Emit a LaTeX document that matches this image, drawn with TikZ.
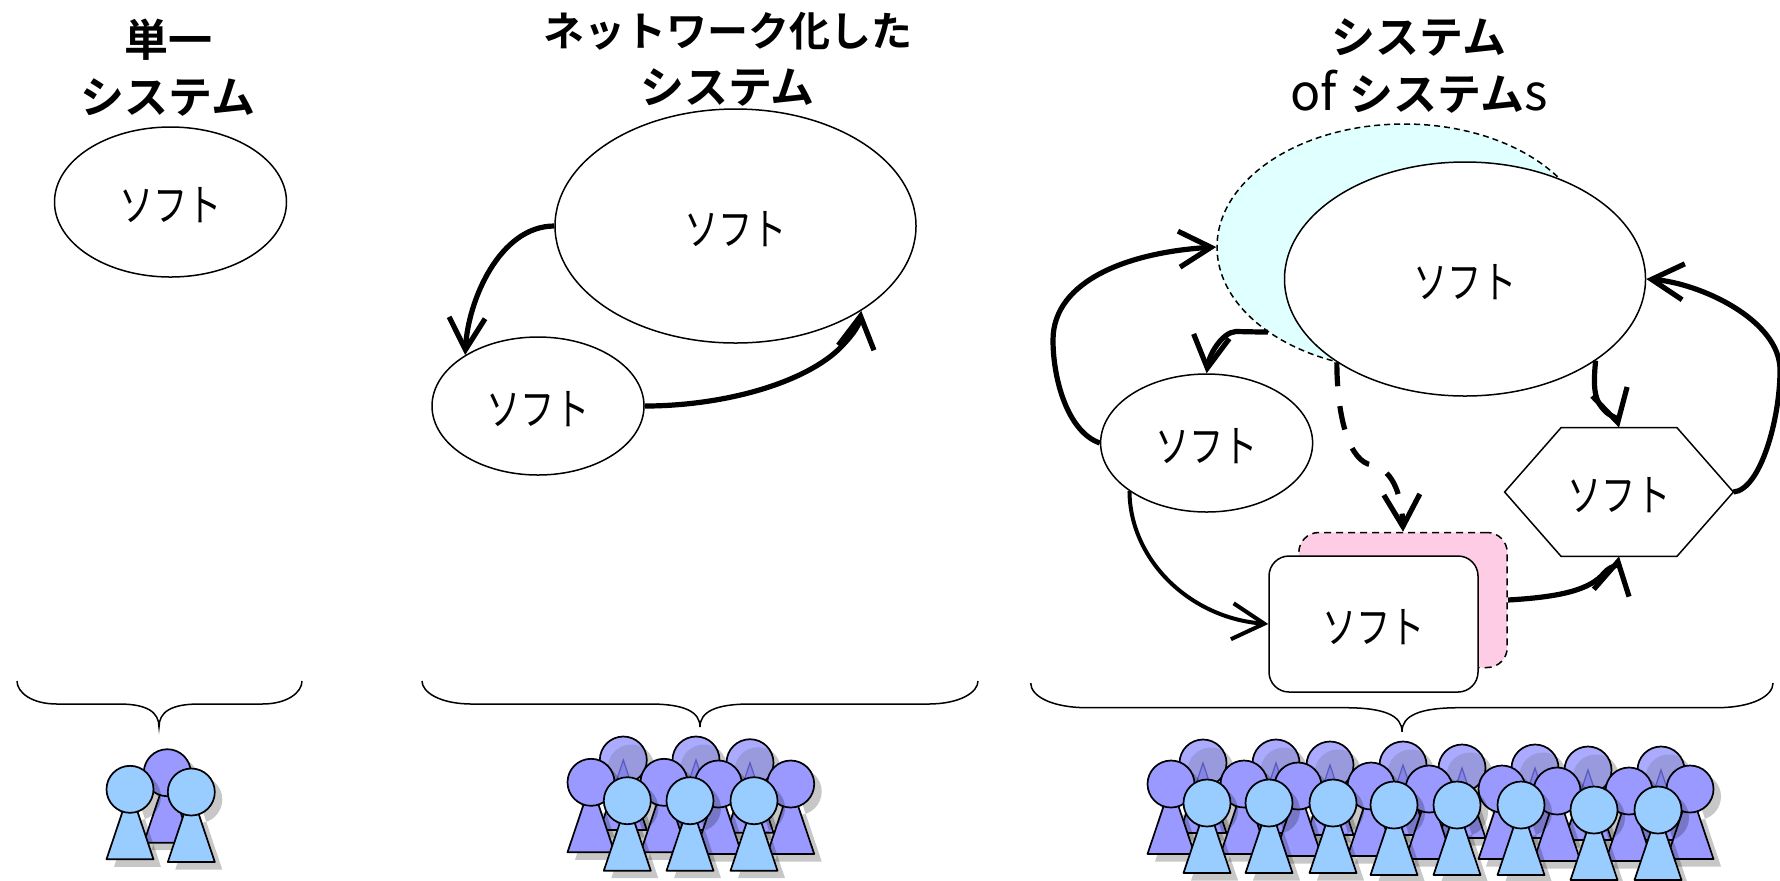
\documentclass[tikz,border=0pt]{standalone}
\usepackage{graphicx}
\usepackage{fontspec}
\usetikzlibrary{arrows.meta,shapes.geometric}
\newfontfamily\cjk[BoldFont={Noto Sans CJK JP Bold}]{Noto Sans CJK JP}
\definecolor{cyanfill}{HTML}{E0FFFF}
\definecolor{pinkfill}{HTML}{FFCCE6}
\definecolor{midc}{HTML}{9999FF}
\definecolor{frontc}{HTML}{99CCFF}
\definecolor{backc}{HTML}{AAAAFF}
\definecolor{backd}{HTML}{9999DD}
\definecolor{backt}{HTML}{8585E5}
\definecolor{backl}{HTML}{5A5ABD}
\newcommand{\sft}{\raisebox{-9.5pt}[0pt][0pt]{\scalebox{.78}[1]{\cjk\fontsize{22}{22}\selectfont ソフト}}}
\newcommand{\tlarge}{\fontsize{22}{28.5}\selectfont}
\tikzset{
  shp/.style={draw=black,line width=.75pt,fill=white,inner sep=0pt},
  bigell/.style={shp,ellipse,minimum width=180.5pt,minimum height=117pt},
  smell/.style={shp,ellipse,minimum width=106pt,minimum height=69pt},
  ttl/.style={font=\cjk\bfseries\fontsize{20.5}{28.5}\selectfont,inner sep=0pt,align=center},
  arr/.style={draw=black,line width=2.6pt,-{Straight Barb[length=16pt,width=18pt]}},
  arrthin/.style={arr,line width=2pt},
  brc/.style={draw=black,line width=.75pt},
  pline/.style={draw=black,line width=.85pt,line join=round},
  pshade/.style={fill=black,opacity=.22},
}
\newcommand{\psha}{\fill[pshade] (7.5,7.5) -- (-16,77.5) -- (31,77.5) -- cycle (7.5,7.5) circle[radius=23.5];}
\newcommand{\personP}[3]{\begin{scope}[shift={(#1,#2)}]
  \psha
  \draw[pline,fill=#3] (0,0) -- (23.5,70) -- (-23.5,70) -- cycle;
  \draw[pline,fill=#3] (0,0) circle[radius=23.5];
\end{scope}}
\newcommand{\personB}[2]{\begin{scope}[shift={(#1,#2)}]
  \psha
  \draw[pline,fill=midc] (0,0) -- (23.5,70) -- (-23.5,70) -- cycle;
  \begin{scope}
    \clip (0,0) circle[radius=23.5];
    \fill[backc] (-24,-24) rectangle (24,24);
    \fill[backd] (8,8) circle[radius=23.5];
    \draw[draw=backl,fill=backt,line width=.6pt] (0,0) -- (10,30) -- (-10,30) -- cycle;
  \end{scope}
  \draw[pline] (0,0) circle[radius=23.5];
\end{scope}}
\newcommand{\bracepath}[7]{\draw[brc] (#1,#4) .. controls (#1,{#5-12}) and ({#1+#7*.35},#5) .. ({#1+#7},#5)
  -- ({#2-#7},#5) .. controls ({#2-#7*.3},#5) and (#2,{#5+8}) .. (#2,#6)
  .. controls (#2,{#5+8}) and ({#2+#7*.3},#5) .. ({#2+#7},#5)
  -- ({#3-#7},#5) .. controls ({#3-#7*.35},#5) and (#3,{#5-12}) .. (#3,#4);}
\begin{document}
\begin{tikzpicture}[x=.5pt,y=-.5pt]
\useasboundingbox (0,0) rectangle (1780,880);
% titles
\node[ttl] (t1) at (168,68) {{\tlarge 単一}\\{\tlarge システム}};
\node[ttl] (t2) at (727.5,59) {ネットワーク化した\\{\tlarge システム}};
\node[ttl] (t3) at (1419,66) {{\tlarge システム}\\{\mdseries\fontsize{25}{28.5}\selectfont of }\kern1pt{\tlarge システム}{\mdseries\fontsize{25}{28.5}\selectfont s}};
% panel 1
\node[shp,ellipse,minimum width=116pt,minimum height=75pt] (a1) at (170.5,202) {\sft};
% panel 2
\node[bigell] (b1) at (735.5,226) {\sft};
\node[smell] (b2) at (538,406) {\sft};
\draw[arr] (b1.west) .. controls (500,226) and (468,300) .. (b2.145);
\draw[arr] (b2.east) .. controls (720,406) and (800,385) .. (838,350) .. controls (850,338) and (859,327) .. (b1.-34);
% panel 3
\node[shp,ellipse,minimum width=187pt,minimum height=123pt,fill=cyanfill,dash pattern=on 3pt off 2pt] (c0) at (1404,247) {};
\node[bigell] (c1) at (1465,279) {\sft};
\node[smell] (c2) at (1206.6,443) {\sft};
\node[draw=none,inner sep=0pt,minimum width=114pt,minimum height=64pt] (c3) at (1619,492) {\sft};
\draw[line width=.75pt,line join=miter] (c3.west) -- ([shift={(28.25pt,0)}]c3.north west) -- ([shift={(-28.25pt,0)}]c3.north east) -- (c3.east) -- ([shift={(-28.25pt,0)}]c3.south east) -- ([shift={(28.25pt,0)}]c3.south west) -- cycle;
\node[shp,fill=pinkfill,dash pattern=on 3.5pt off 2.5pt,rounded corners=10pt,minimum width=104.2pt,minimum height=67.5pt] (c4) at (1403,600) {};
\node[shp,rounded corners=10pt,minimum width=104.5pt,minimum height=68pt] (c5) at (1373.5,624) {\sft};
\draw[arr] (c2.west) .. controls (1068,432) and (1053,380) .. (1053,340) .. controls (1053,280) and (1130,252) .. (c0.west);
\draw[arr] (c0.212) -- (1236,331.5) .. controls (1222,332) and (1209,355) .. (c2.north);
\draw[arr,dash pattern=on 12pt off 10pt] (c1.213) .. controls (1337,420) and (1350,462) .. (1372,465) .. controls (1395,470) and (1402,500) .. (c4.north);
\draw[arr] (c1.-32.5) .. controls (1592,395) and (1597,402) .. (1604,410) .. controls (1610,417) and (1616,416) .. (c3.north);
\draw[arr] (c3.east) .. controls (1760,490) and (1780,420) .. (1780,370) .. controls (1780,320) and (1700,283) .. (c1.east);
\draw[arrthin] (c2.212.8) .. controls (1130,560) and (1190,618) .. (c5.west);
\draw[arr] (c4.east) .. controls (1560,597) and (1590,590) .. (1604,573) .. controls (1610,566) and (1617,566) .. (c3.south);
% braces
\bracepath{17}{159}{302}{681}{704}{727}{40}
\bracepath{422}{700}{978}{681}{704}{727}{50}
\bracepath{1030.7}{1402}{1773}{683}{707.7}{731.7}{57}
% people panel 1
\personP{167.3}{772.7}{midc}
\personP{130}{789.3}{frontc}
\personP{191.3}{792}{frontc}
% people panel 2
\foreach \x/\y in {623.3/760,696/760,750/762.7} {\personB{\x}{\y}}
\foreach \x/\y in {591/782.3,664/782.3,718.3/784,790.7/784} {\personP{\x}{\y}{midc}}
\foreach \x/\y in {627.3/800.7,690/800.7,754/800.7} {\personP{\x}{\y}{frontc}}
% people panel 3
\foreach \x/\y in {1203/763,1276/763,1330/765,1403/765,1462/768,1535/768,1588/770,1661/770} {\personB{\x}{\y}}
\foreach \x/\y in {1171/784,1244/784,1298/786,1371/786,1429/789,1502/789,1557/791,1629/791,1690/789} {\personP{\x}{\y}{midc}}
\foreach \x/\y in {1207/803,1269/803,1333/803,1394/805,1457/805,1521/805,1594/810,1658/810} {\personP{\x}{\y}{frontc}}
\end{tikzpicture}
\end{document}
